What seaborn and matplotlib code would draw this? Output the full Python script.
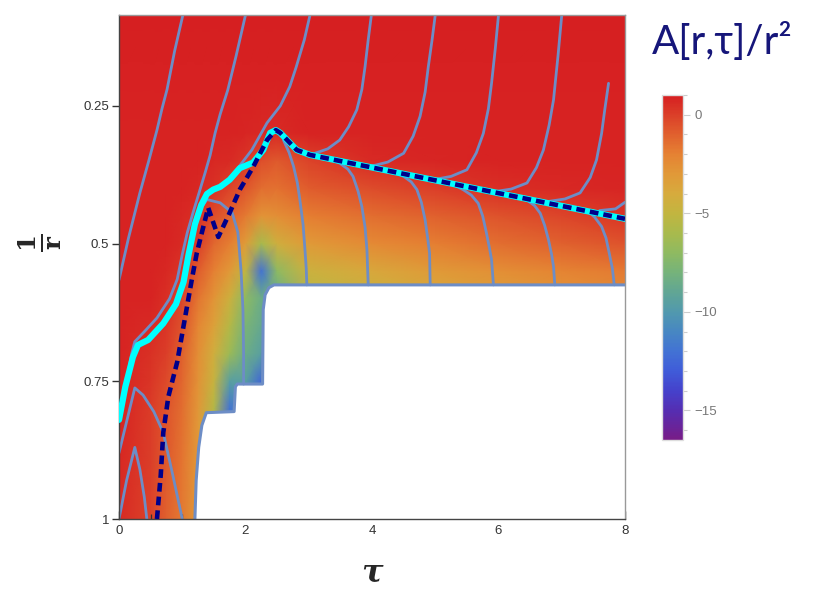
import numpy as np
import pandas as pd
import seaborn as sns
import matplotlib
matplotlib.use("Agg")
import matplotlib.pyplot as plt
from matplotlib.colors import LinearSegmentedColormap
from matplotlib.ticker import FixedLocator, MultipleLocator

# ---------------- data ----------------
tau_nodes = [0, 0.5, 0.75, 1.0, 1.25, 1.5, 1.75, 2.0, 2.25, 2.5, 3, 4, 5, 6, 7, 8]
y_nodes = [0.085, 0.2, 0.3, 0.35, 0.4, 0.45, 0.5, 0.55, 0.6, 0.65, 0.7, 0.75, 0.8, 0.9, 1.0]
row_0085 = [1.0, 1.0, 1.0, 1.0, 1.0, 1.0, 1.0, 1.0, 1.0, 1.0, 1.0, 1.0, 1.0, 1.0, 1.0, 1.0]
row_020 = [0.9, 0.9, 0.9, 0.9, 0.9, 0.9, 0.9, 0.9, 0.9, 0.9, 0.9, 0.9, 0.9, 0.9, 0.9, 0.9]
row_030 = [0.85, 0.85, 0.85, 0.85, 0.85, 0.8, 0.8, 0.75, 0.7, 0.65, 0.8, 0.85, 0.85, 0.85, 0.85, 0.85]
row_035 = [0.85, 0.85, 0.85, 0.8, 0.8, 0.7, 0.6, 0.3, -0.5, -0.8, -0.1, 0.6, 0.75, 0.8, 0.8, 0.8]
row_040 = [0.8, 0.8, 0.8, 0.8, 0.7, 0.4, -0.1, -0.7, -1.4, -1.5, -0.9, -0.4, 0.0, 0.5, 0.7, 0.75]
row_045 = [0.8, 0.8, 0.8, 0.7, 0.5, -0.5, -1.1, -1.8, -2.8, -2.6, -1.9, -1.4, -1.0, -0.6, -0.2, 0.3]
row_050 = [0.8, 0.8, 0.8, 0.6, 0.0, -1.2, -1.9, -3.2, -6.0, -4.4, -3.1, -2.4, -1.9, -1.4, -1.0, -0.6]
row_055 = [0.8, 0.8, 0.7, 0.3, -0.9, -2.0, -3.0, -5.0, -12.0, -7.0, -4.6, -3.8, -3.1, -2.6, -2.1, -1.8]
row_060 = [0.8, 0.8, 0.5, -0.2, -1.6, -2.8, -4.5, -7.0, -8.5, -9.0, -5.5, -4.8, -4.0, -3.4, -2.9, -2.6]
row_065 = [0.8, 0.6, 0.3, -0.6, -2.2, -3.5, -5.5, -7.8, -8.8, -9.0, -6.0, -5.0, -4.0, -3.5, -3.0, -2.7]
row_070 = [0.8, 0.4, 0.0, -1.0, -2.5, -4.3, -6.5, -8.5, -9.5, -9.0, -6.0, -5.0, -4.0, -3.5, -3.0, -2.7]
row_075 = [0.8, 0.3, -0.3, -1.2, -2.7, -4.8, -9.5, -9.5, -12.5, -9.0, -6.0, -5.0, -4.0, -3.5, -3.0, -2.7]
row_080 = [0.8, 0.1, -0.6, -1.4, -2.9, -5.5, -12.0, -10.0, -11.0, -9.0, -6.0, -5.0, -4.0, -3.5, -3.0, -2.7]
row_090 = [0.7, 0.0, -0.8, -1.6, -3.0, -5.5, -9.0, -9.0, -9.0, -9.0, -6.0, -5.0, -4.0, -3.5, -3.0, -2.7]
row_100 = [0.6, -0.1, -1.0, -1.8, -3.1, -5.5, -9.0, -9.0, -9.0, -9.0, -6.0, -5.0, -4.0, -3.5, -3.0, -2.7]
field_rows = [row_0085, row_020, row_030, row_035, row_040, row_045, row_050, row_055,
              row_060, row_065, row_070, row_075, row_080, row_090, row_100]

# white (excised) region outline
mask_tau = [1.2, 1.22, 1.26, 1.31, 1.38, 1.82, 1.84, 1.87, 2.27, 2.28, 2.31, 2.37, 2.45, 8.0, 8.0, 1.2]
mask_y = [1.0, 0.93, 0.87, 0.83, 0.807, 0.805, 0.76, 0.755, 0.755, 0.62, 0.593, 0.58, 0.575, 0.575, 1.0, 1.0]

# event horizon (cyan)
cyan_tau = [0.0, 0.1, 0.22, 0.30, 0.46, 0.70, 0.90, 1.02, 1.10, 1.20, 1.30, 1.39, 1.49, 1.60,
            1.75, 1.91, 2.12, 2.28, 2.39, 2.48, 2.55, 2.70, 2.81, 3.02, 8.0]
cyan_y = [0.82, 0.76, 0.706, 0.684, 0.675, 0.645, 0.61, 0.57, 0.52, 0.465, 0.43, 0.41, 0.402,
          0.397, 0.384, 0.363, 0.353, 0.33, 0.299, 0.294, 0.299, 0.317, 0.33, 0.339, 0.455]

# apparent horizon (navy dashed)
dash_tau = [0.6, 0.66, 0.70, 0.78, 0.92, 1.02, 1.15, 1.23, 1.31, 1.41, 1.57, 1.75, 1.91, 2.12,
            2.34, 2.48, 2.55, 2.70, 2.81, 3.02, 8.0]
dash_y = [1.0, 0.92, 0.843, 0.778, 0.715, 0.65, 0.566, 0.517, 0.48, 0.435, 0.488, 0.444, 0.402,
          0.361, 0.312, 0.294, 0.299, 0.317, 0.33, 0.339, 0.455]

# thin characteristic curves
curves = {
    "A": ([0.0, 0.15, 0.33, 0.47, 0.6, 0.68, 0.76, 0.88, 1.01],
          [0.566, 0.49, 0.408, 0.35, 0.294, 0.255, 0.22, 0.15, 0.085]),
    "B": ([0.0, 0.2, 0.25, 0.4, 0.6, 0.8, 0.92, 1.0, 1.08, 1.17, 1.26, 1.36, 1.44, 1.52, 1.6,
           1.72, 1.85, 2.0],
          [0.82, 0.70, 0.678, 0.66, 0.635, 0.6, 0.565, 0.52, 0.48, 0.444, 0.41, 0.372, 0.34,
           0.299, 0.265, 0.221, 0.16, 0.085]),
    "C": ([1.33, 1.39, 1.6, 1.79, 1.88, 1.93, 1.96, 1.97, 1.97],
          [0.43, 0.42, 0.426, 0.444, 0.48, 0.55, 0.62, 0.70, 0.755]),
    "D": ([1.9, 2.1, 2.34, 2.55, 2.7, 2.8, 2.93, 3.02],
          [0.36, 0.33, 0.281, 0.25, 0.215, 0.18, 0.13, 0.085]),
    "E": ([0.0, 0.25, 0.38, 0.55, 0.70, 0.85, 1.0], [0.88, 0.762, 0.775, 0.805, 0.843, 0.92, 1.0]),
    "F": ([0.0, 0.12, 0.25, 0.33, 0.4, 0.44], [1.0, 0.93, 0.87, 0.91, 0.96, 1.0]),
    "U2": ([3.05, 3.3, 3.49, 3.63, 3.76, 3.84, 3.89, 3.94, 3.99],
           [0.338, 0.328, 0.312, 0.288, 0.257, 0.22, 0.179, 0.13, 0.085]),
    "U3": ([3.97, 4.25, 4.50, 4.65, 4.76, 4.84, 4.89, 4.95, 5.0],
           [0.360, 0.352, 0.336, 0.305, 0.269, 0.225, 0.179, 0.13, 0.085]),
    "U4": ([4.97, 5.25, 5.50, 5.65, 5.76, 5.84, 5.89, 5.95, 6.0],
           [0.384, 0.378, 0.366, 0.335, 0.300, 0.255, 0.209, 0.145, 0.085]),
    "U5": ([5.92, 6.2, 6.45, 6.6, 6.71, 6.80, 6.87, 6.94, 7.0],
           [0.406, 0.401, 0.390, 0.362, 0.330, 0.285, 0.239, 0.16, 0.085]),
    "U6": ([6.76, 7.05, 7.29, 7.45, 7.55, 7.63, 7.68, 7.74],
           [0.424, 0.419, 0.408, 0.38, 0.348, 0.30, 0.257, 0.209]),
    "U7": ([7.6, 7.85, 8.0], [0.44, 0.437, 0.425]),
    "La": ([2.60, 2.69, 2.76, 2.82, 2.86, 2.91, 2.94, 2.96, 2.97],
           [0.312, 0.335, 0.360, 0.39, 0.421, 0.465, 0.511, 0.545, 0.575]),
    "Lb": ([3.3, 3.49, 3.62, 3.70, 3.78, 3.84, 3.89, 3.92, 3.94],
           [0.345, 0.354, 0.365, 0.378, 0.405, 0.433, 0.47, 0.511, 0.575]),
    "Lc": ([4.3, 4.50, 4.62, 4.71, 4.78, 4.84, 4.88, 4.91, 4.92],
           [0.368, 0.378, 0.388, 0.402, 0.425, 0.457, 0.49, 0.517, 0.575]),
    "Ld": ([5.25, 5.44, 5.57, 5.68, 5.75, 5.81, 5.86, 5.89, 5.92],
           [0.391, 0.402, 0.412, 0.427, 0.45, 0.481, 0.51, 0.529, 0.575]),
    "Le": ([6.25, 6.45, 6.57, 6.66, 6.73, 6.79, 6.84, 6.87, 6.89],
           [0.412, 0.421, 0.431, 0.445, 0.467, 0.493, 0.52, 0.542, 0.575]),
    "Lf": ([7.2, 7.39, 7.52, 7.63, 7.70, 7.75, 7.8, 7.83],
           [0.434, 0.439, 0.452, 0.469, 0.49, 0.517, 0.545, 0.575]),
}

x_ticks = [0, 2, 4, 6, 8]
y_ticks = [0.25, 0.5, 0.75, 1.0]
y_ticklabels = ["0.25", "0.5", "0.75", "1"]
cb_ticks = [0, -5, -10, -15]
cb_ticklabels = ["0", "\u22125", "\u221210", "\u221215"]

# ---------------- style ----------------
sns.set_style("white")
plt.rcParams["font.family"] = ["Liberation Sans", "DejaVu Sans"]
plt.rcParams["mathtext.fontset"] = "dejavuserif"

vmin, vmax = -16.5, 1.0
stops = [(1.0, (0.84, 0.12, 0.13)), (0.0, (0.86, 0.25, 0.16)), (-1, (0.88, 0.38, 0.18)),
         (-2, (0.90, 0.51, 0.20)), (-3, (0.88, 0.60, 0.22)), (-4, (0.84, 0.67, 0.24)),
         (-5, (0.76, 0.71, 0.25)), (-6, (0.66, 0.73, 0.30)), (-7, (0.56, 0.73, 0.38)),
         (-8, (0.46, 0.70, 0.48)), (-9, (0.38, 0.65, 0.58)), (-10, (0.32, 0.60, 0.68)),
         (-11, (0.28, 0.53, 0.76)), (-12, (0.26, 0.45, 0.83)), (-13, (0.25, 0.36, 0.85)),
         (-14, (0.27, 0.26, 0.80)), (-15, (0.33, 0.18, 0.70)), (-16.5, (0.47, 0.11, 0.53))]
stops = sorted(((v - vmin) / (vmax - vmin), c) for v, c in stops)
cmap = LinearSegmentedColormap.from_list("rainbowish", stops)

fig = plt.figure(figsize=(8.2, 5.89), dpi=100)
ax = fig.add_axes([119 / 820, 70 / 589, 506 / 820, 504 / 589])

field = np.array(field_rows)
mesh = ax.pcolormesh(tau_nodes, y_nodes, field, shading="gouraud", cmap=cmap,
                     vmin=vmin, vmax=vmax, zorder=0, rasterized=True)

ax.fill(mask_tau, mask_y, color="white", zorder=1, lw=0)

line_col = "#6d8dc6"
rows = []
for name, (xs, ys) in curves.items():
    for i, (xv, yv) in enumerate(zip(xs, ys)):
        rows.append({"curve": name, "tau": xv, "y": yv, "order": i})
df = pd.DataFrame(rows)
sns.lineplot(data=df, x="tau", y="y", units="curve", estimator=None, sort=False,
             color=line_col, lw=2.0, ax=ax, zorder=2)
sns.lineplot(x=mask_tau[:-3] + [8.0], y=mask_y[:-3] + [0.575], sort=False, estimator=None,
             color=line_col, lw=2.2, ax=ax, zorder=2)
sns.lineplot(x=cyan_tau, y=cyan_y, sort=False, estimator=None, color="#00ffff",
             lw=4.5, ax=ax, zorder=3)
ax.plot(dash_tau, dash_y, color="#00008b", lw=3.3, dashes=(1.9, 1.1), zorder=4,
        solid_capstyle="butt", dash_capstyle="butt")

ax.set_xlim(0, 8)
ax.set_ylim(1.0, 0.085)
ax.set_xticks(x_ticks)
ax.set_xticklabels([str(t) for t in x_ticks])
ax.xaxis.set_minor_locator(MultipleLocator(0.5))
ax.set_yticks(y_ticks)
ax.set_yticklabels(y_ticklabels)
ax.tick_params(axis="x", which="major", direction="in", length=6, width=1, color="#333333",
               labelsize=9.5, labelcolor="#333333", pad=4, bottom=True)
ax.tick_params(axis="x", which="minor", direction="in", length=3.5, width=0.9, color="#333333",
               bottom=True)
ax.tick_params(axis="y", which="major", direction="out", length=5, width=1, color="#333333",
               labelsize=9.5, labelcolor="#333333", pad=2, left=True)
for side in ["left", "bottom"]:
    ax.spines[side].set_color("#444444")
    ax.spines[side].set_linewidth(1.0)
for side in ["top", "right"]:
    ax.spines[side].set_color("#999999")
    ax.spines[side].set_linewidth(1.0)

ax.set_xlabel("\u03c4", fontsize=23, fontweight="bold", fontstyle="italic",
              family="DejaVu Serif", va="center")
ax.xaxis.set_label_coords(0.5, -0.107)
ax.set_ylabel(r"$\mathbf{\frac{1}{r}}$", fontsize=25, rotation=90, va="center", ha="center")
ax.yaxis.set_label_coords(-0.156, 0.548)

# colorbar
cax = fig.add_axes([662 / 820, 149 / 589, 21 / 820, 345 / 589])
cb = fig.colorbar(mesh, cax=cax)
cb.set_ticks(cb_ticks)
cb.set_ticklabels(cb_ticklabels)
cb.ax.yaxis.set_minor_locator(FixedLocator(list(range(-16, 2))))
cb.ax.tick_params(which="major", length=5, width=0.8, color="#cccccc", labelsize=9.5,
                  labelcolor="#777777", pad=3)
cb.ax.tick_params(which="minor", length=3, width=0.8, color="#cccccc")
cb.outline.set_edgecolor("#dddddd")
cb.outline.set_linewidth(1.0)

fig.text(722 / 820, 1 - 42 / 589, "A[r,\u03c4]/r\u00b2", color="#16167a", fontsize=29,
         ha="center", va="center", family=["Lato", "DejaVu Sans"])

fig.savefig("out.png", dpi=100)
